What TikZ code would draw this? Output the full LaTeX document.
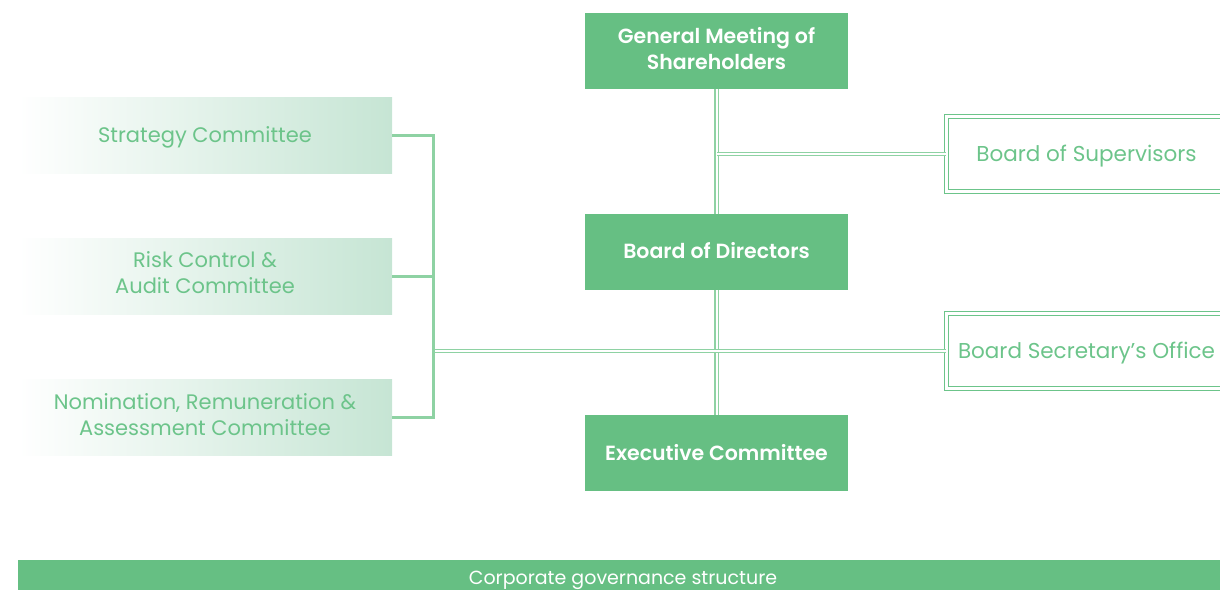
\documentclass[tikz,border=0pt]{standalone}
\usepackage{fontspec}
\setmainfont{Poppins}[BoldFont={Poppins SemiBold}]
\definecolor{gmgreen}{HTML}{66BF83}
\definecolor{txgreen}{HTML}{6CC48A}
\definecolor{lngreen}{HTML}{8ED2A3}
\definecolor{shgreen}{HTML}{C6E5D4}

\tikzset{every picture/.style={line width=0.75pt}}
\tikzset{
  mainbox/.style={fill=gmgreen, text=white, font=\bfseries\fontsize{20.5}{26}\selectfont, minimum width=263pt, minimum height=76pt, align=center, inner sep=0pt},
  combox/.style={left color=white, right color=shgreen, text=txgreen, font=\fontsize{21}{26}\selectfont, minimum width=374pt, minimum height=76pt, align=center, inner sep=0pt},
  sidebox/.style={draw=txgreen, double=white, double distance=2.5pt, line width=1.2pt, text=txgreen, font=\fontsize{21.5}{26}\selectfont, minimum width=280pt, minimum height=75pt, inner sep=0pt, text depth=1pt},
  dline/.style={draw=lngreen, double=white, double distance=2pt, line width=1.3pt},
  bline/.style={draw=lngreen, line width=3pt},
}

\begin{document}
\begin{tikzpicture}[x=1pt,y=1pt,yscale=-1,xscale=1]
\clip (0,0) rectangle (1220,589);

% Main bodies
\node [mainbox, text depth=5pt] (gm) at (716.5,51) {General Meeting of\\Shareholders};
\node [mainbox, text depth=4pt] (bod) at (716.5,252) {Board of Directors};
\node [mainbox, text depth=2pt] (exec) at (716.5,453) {Executive Committee};

% Board side offices
\node [sidebox] (sup) at (1086.5,154) {Board of Supervisors};
\node [sidebox] (sec) at (1086.5,351) {Board Secretary’s Office};

% Special committees
\node [combox, text depth=0pt] (strat) at (205,135) {Strategy Committee};
\node [combox, text depth=6pt] (risk) at (205,276) {Risk Control \&\\Audit Committee};
\node [combox, text depth=4pt] (nom) at (205,417) {Nomination, Remuneration \&\\Assessment Committee};

% Connectors
\draw [dline] (gm) -- (bod);
\draw [dline] (bod) -- (exec);
\draw [dline] (sup.west) -- (sup.west -| gm.south);
\coordinate (jn) at (433,351);
\draw [dline] (sec.west) -- (jn);
\draw [bline] (strat.east) -| (jn) |- (nom.east);
\draw [bline] (risk.east) -- (risk.east -| jn);

% Caption bar
\node [fill=gmgreen, text=white, font=\fontsize{19}{22}\selectfont, minimum width=1210pt, minimum height=37pt, inner sep=0pt, text depth=2pt] (cap) at (623,578.5) {Corporate governance structure};
\end{tikzpicture}
\end{document}
